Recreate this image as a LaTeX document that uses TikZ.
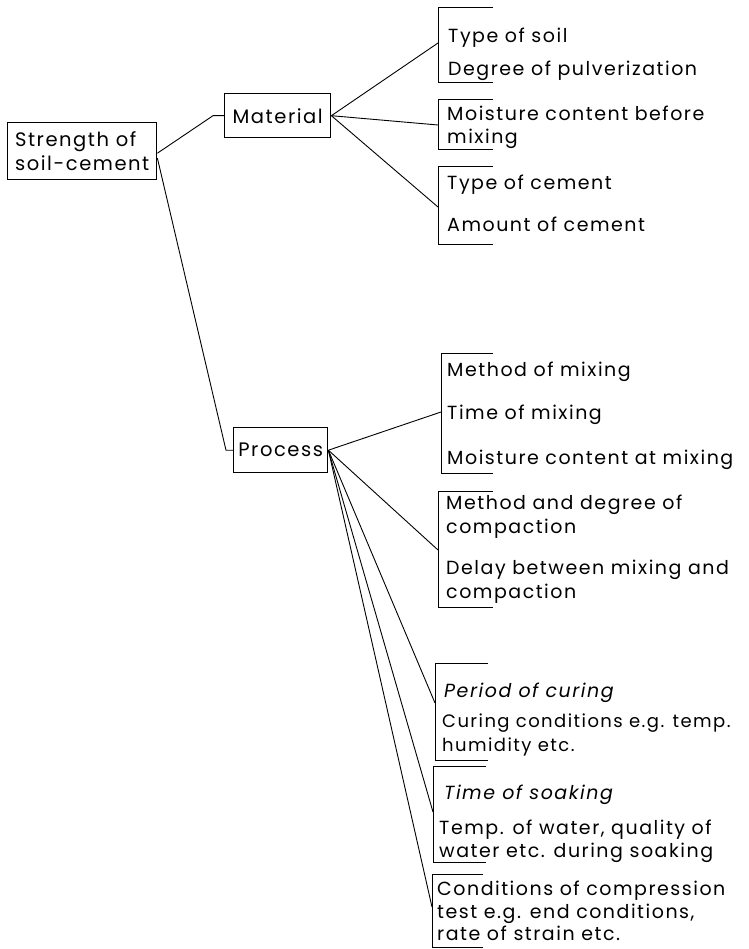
\documentclass[tikz,border=0pt]{standalone}
\usepackage{fontspec}
\setmainfont{Poppins}[LetterSpace=8]
\usetikzlibrary{positioning}
\tikzset{
    % boxes of the tree
    box/.style={
           draw, line width=1.4pt, align=left, inner sep=2pt,
           font=\fontsize{19.5}{24}\selectfont},
    % texts beside the brackets
    item/.style={
           anchor=west, align=left, inner sep=0pt,
           font=\fontsize{19}{23.5}\selectfont},
    % connecting lines
    link/.style={
           line width=0.9pt},
    brack/.style={
           line width=1pt}
}

\begin{document}
\begin{tikzpicture}[x=1pt, y=-1pt]
	\useasboundingbox (0,0) rectangle (748,949);

	% Main boxes
	\node[box, anchor=north west, minimum width=149pt, minimum height=57pt](root) at (7,122) {Strength of\\soil-cement};
	\node[box, anchor=north west, minimum width=106pt, minimum height=44pt, align=center](material) at (224,93) {Material};
	\node[box, anchor=north west, minimum width=94pt, minimum height=45pt, align=center](process) at (233,427) {Process};

	\draw[link] ([yshift=-2pt]root.east) -- ([xshift=-11pt]material.west) -- (material.west);
	\draw[link] ([yshift=-7pt]root.east) -- ([xshift=-7pt]process.west) -- (process.west);

	% Brackets
	\foreach \n/\x/\t/\b/\j/\l in {b1/438/8/83/43/55, b2/438/100/150/125/55, b3/438/167/245/207/55,
	                              b4/441/353/473/412/52, b5/438/491/607/550/55, b6/435/663/760/703/53,
	                              b7/433/766/862/812/53, b8/432/874/947/907/51}{
		\draw[brack] (\x+\l,\t) -- (\x,\t) -- (\x,\b) -- (\x+\l,\b);
		\coordinate (\n) at (\x,\j);
	}

	% Material factors
	\node[item](soiltype) at (448,38) {Type of soil};
	\node[item](pulver) at (448,71) {Degree of pulverization};
	\node[item](moistbefore) at (447,127.5) {Moisture content before\\mixing};
	\node[item](cementtype) at (447,185) {Type of cement};
	\node[item](cementamount) at (447,224) {Amount of cement};

	\foreach \b in {b1,b2,b3}
		\draw[link] (material.east) -- (\b);

	% Process factors
	\node[item](mixmethod) at (447,372) {Method of mixing};
	\node[item](mixtime) at (447,415) {Time of mixing};
	\node[item](mixmoist) at (447,460) {Moisture content at mixing};
	\node[item](compact) at (446,516.5) {Method and degree of\\compaction};
	\node[item](delay) at (446,581.5) {Delay between mixing and\\compaction};
	\node[item, font=\fontsize{19}{23.5}\selectfont\itshape](curperiod) at (444,693) {Period of curing};
	\node[item, font=\fontsize{18}{23.5}\selectfont](curcond) at (442,735) {Curing conditions e.g. temp.\\humidity etc.};
	\node[item, font=\fontsize{19}{23.5}\selectfont\itshape](soaktime) at (444,795) {Time of soaking};
	\node[item](soakwater) at (439,841.5) {Temp. of water, quality of\\water etc. during soaking};
	\node[item, font=\fontsize{19}{22.5}\selectfont](testcond) at (437,911) {Conditions of compression\\test e.g. end conditions,\\rate of strain etc.};

	\foreach \b in {b4,b5,b6,b7,b8}
		\draw[link] (process.east) -- (\b);

\end{tikzpicture}
\end{document}
